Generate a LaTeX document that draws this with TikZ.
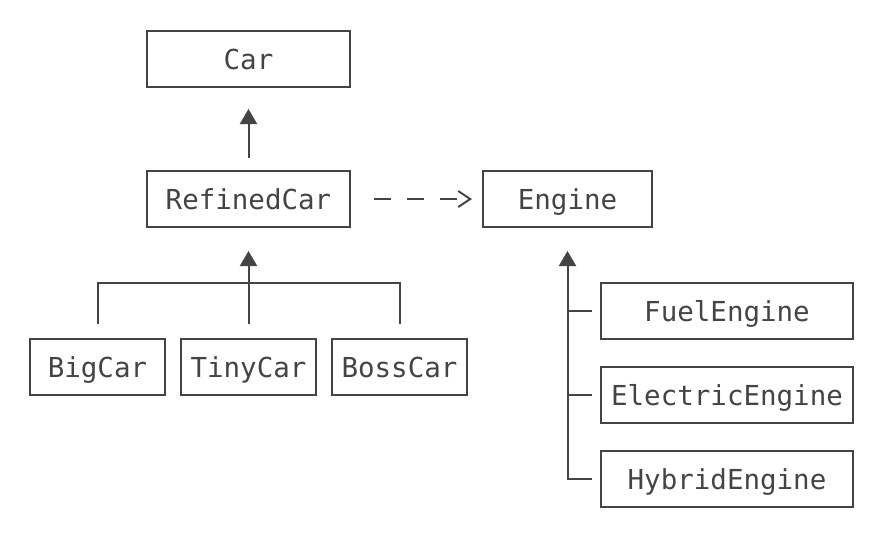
\documentclass[tikz,border=0pt]{standalone}
\usepackage{fontspec}
\setmonofont{DejaVu Sans Mono}
\usetikzlibrary{arrows.meta}
\definecolor{ink}{RGB}{68,68,68}
\tikzset{>={Triangle[length=15pt,width=17pt]}}
\tikzset{
	classbox/.style={draw=ink, line width=2pt, minimum height=56pt, inner sep=0pt,
		text height=20pt, text depth=0pt,
		text=ink, font=\ttfamily\fontsize{27.5}{32}\selectfont},
	wire/.style={draw=ink, line width=2pt},
	usesarrow/.style={wire, dash pattern=on 17pt off 16pt,
		-{Straight Barb[length=12pt,width=16pt,line width=2pt]}}
}

\begin{document}
\begin{tikzpicture}[x=1pt,y=-1pt]
\useasboundingbox (0,0) rectangle (888,542);

% car hierarchy
\node[classbox, minimum width=203pt] (car) at (248.5,59) {Car};
\node[classbox, minimum width=203pt] (refined) at (248.5,199) {RefinedCar};
\node[classbox, minimum width=135pt] (bigcar) at (97.5,367) {BigCar};
\node[classbox, minimum width=135pt] (tinycar) at (248.5,367) {TinyCar};
\node[classbox, minimum width=135pt] (bosscar) at (399.5,367) {BossCar};

% engine hierarchy
\node[classbox, minimum width=169pt] (engine) at (567.5,199) {Engine};
\node[classbox, minimum width=252pt] (fuel) at (727,311) {FuelEngine};
\node[classbox, minimum width=252pt] (electric) at (727,395) {ElectricEngine};
\node[classbox, minimum width=252pt] (hybrid) at (727,479) {HybridEngine};

% refined car extends car
\draw[wire, ->, shorten <=12pt, shorten >=21pt] (refined.north) -- (car.south);

% car bus
\coordinate (carbus) at (248.5,283);
\draw[wire, shorten <=14pt, shorten >=14pt] (bigcar.north) |- (carbus) -| (bosscar.north);
\draw[wire, ->, shorten <=14pt, shorten >=23pt] (tinycar.north) -- (refined.south);

% refined car uses engine
\draw[usesarrow, shorten <=23pt, shorten >=10pt] (refined.east) -- (engine.west);

% engine bus
\draw[wire, <-, shorten <=23pt, shorten >=8pt] (engine.south) |- (hybrid.west);
\draw[wire, shorten >=8pt] (engine.south |- fuel.west) -- (fuel.west);
\draw[wire, shorten >=8pt] (engine.south |- electric.west) -- (electric.west);

\end{tikzpicture}
\end{document}
